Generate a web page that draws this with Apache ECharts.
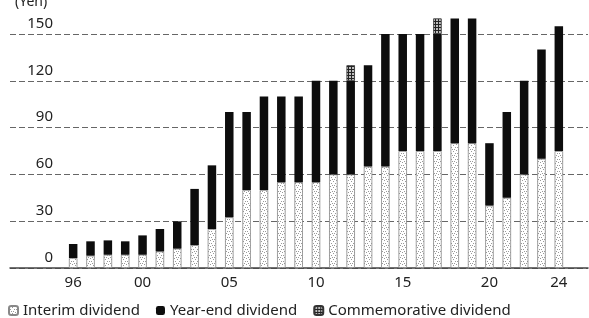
<!DOCTYPE html>
<html>
<head>
<meta charset="utf-8">
<script src="https://cdn.jsdelivr.net/npm/echarts@6/dist/echarts.min.js"></script>
<style>
  html, body { margin: 0; padding: 0; background: #fff; }
</style>
</head>
<body>
<!-- CHART: dividends per share (Yen), FY1996-2024 -->
<div id="dividends" style="width:589px; height:318px"></div>
<script>
// data
var years = ['96', '97', '98', '99', '00', '01', '02', '03', '04', '05',
             '06', '07', '08', '09', '10', '11', '12', '13', '14', '15',
             '16', '17', '18', '19', '20', '21', '22', '23', '24'];
var interim = [6.4, 7.9, 8.5, 8.5, 8.5, 10.6, 12.4, 14.7, 25, 32.5,
               50, 50, 55, 55, 55, 60, 60, 65, 65, 75,
               75, 75, 80, 80, 40, 45, 60, 70, 75];
var yearEnd = [9, 9.2, 9.2, 8.6, 12.4, 14.4, 17.5, 36, 40.8, 67.5,
               50, 60, 55, 55, 65, 60, 60, 65, 85, 75,
               75, 75, 80, 80, 40, 55, 60, 70, 80];
var commemorative = [null, null, null, null, null, null, null, null, null, null,
                     null, null, null, null, null, null, 10, null, null, null,
                     null, 10, null, null, null, null, null, null, null];
var shownYears = ['96', '00', '05', '10', '15', '20', '24'];

var FONT = '"Noto Sans", sans-serif';

// stipple fill for the interim part
function stipple() {
  var c = document.createElement('canvas');
  c.width = 6; c.height = 6;
  var g = c.getContext('2d');
  g.fillStyle = '#ffffff';
  g.fillRect(0, 0, 6, 6);
  g.fillStyle = '#999';
  [[0, 0], [3, 1], [5, 3], [1, 3], [4, 5], [2, 5]].forEach(function (p) {
    g.fillRect(p[0], p[1], 1, 1);
  });
  return c;
}
// cross hatch for the commemorative part
function hatch() {
  var c = document.createElement('canvas');
  c.width = 3; c.height = 3;
  var g = c.getContext('2d');
  g.fillStyle = '#bdbdbd';
  g.fillRect(0, 0, 3, 3);
  g.fillStyle = '#222';
  g.fillRect(0, 0, 3, 1);
  g.fillRect(0, 0, 1, 3);
  return c;
}

var chartDom = document.getElementById('dividends');
var myChart = echarts.init(chartDom);
var option;

option = {
  animation: false,
  textStyle: { fontFamily: FONT },
  title: {
    text: '(Yen)',
    left: 10,
    top: -10,
    textStyle: { fontSize: 14, fontWeight: 'normal', color: '#222', fontFamily: FONT }
  },
  legend: {
    left: 3,
    top: 298,
    itemWidth: 9,
    itemHeight: 9,
    itemGap: 16,
    textStyle: { fontSize: 15, color: '#222', fontFamily: FONT },
    data: ['Interim dividend', 'Year-end dividend', 'Commemorative dividend']
  },
  grid: [
    { left: 10, right: 1, top: 34, bottom: 50 },      // gridlines and y labels
    { left: 64.5, right: 21.5, top: 34, bottom: 50 }  // bars
  ],
  xAxis: [
    {
      gridIndex: 0,
      type: 'value',
      min: 0,
      max: 1,
      axisLine: { show: true, lineStyle: { color: '#444', width: 1.5 } },
      axisTick: { show: false },
      axisLabel: { show: false },
      splitLine: { show: false }
    },
    {
      gridIndex: 1,
      type: 'category',
      data: years,
      axisLine: { show: false },
      axisTick: { show: false },
      axisLabel: {
        margin: 7,
        fontSize: 15,
        color: '#222',
        interval: function (i, v) { return shownYears.indexOf(v) >= 0; }
      }
    }
  ],
  yAxis: [
    {
      gridIndex: 0,
      type: 'value',
      min: 0,
      max: 150,
      interval: 30,
      axisLine: { show: false },
      axisTick: { show: false },
      axisLabel: {
        inside: true,
        align: 'right',
        verticalAlign: 'bottom',
        margin: 43,
        padding: [0, 0, 3, 0],
        fontSize: 15,
        color: '#222'
      },
      splitLine: {
        lineStyle: { color: '#666', type: [6, 3], width: 1 }
      }
    },
    {
      gridIndex: 1,
      type: 'value',
      min: 0,
      max: 150,
      show: false,
      splitLine: { show: false }
    }
  ],
  series: [
    {
      name: 'Interim dividend',
      type: 'bar',
      stack: 'total',
      xAxisIndex: 1,
      yAxisIndex: 1,
      barWidth: 8.5,
      clip: false,
      itemStyle: {
        color: { image: stipple(), repeat: 'repeat' },
        borderColor: '#888',
        borderWidth: 0.8
      },
      data: interim
    },
    {
      name: 'Year-end dividend',
      type: 'bar',
      stack: 'total',
      xAxisIndex: 1,
      yAxisIndex: 1,
      barWidth: 8.5,
      clip: false,
      itemStyle: { color: '#0d0d0d' },
      data: yearEnd
    },
    {
      name: 'Commemorative dividend',
      type: 'bar',
      stack: 'total',
      xAxisIndex: 1,
      yAxisIndex: 1,
      barWidth: 8.5,
      clip: false,
      itemStyle: {
        color: { image: hatch(), repeat: 'repeat' },
        borderColor: '#333',
        borderWidth: 0.8
      },
      data: commemorative
    }
  ]
};

option && myChart.setOption(option);
</script>
</body>
</html>
